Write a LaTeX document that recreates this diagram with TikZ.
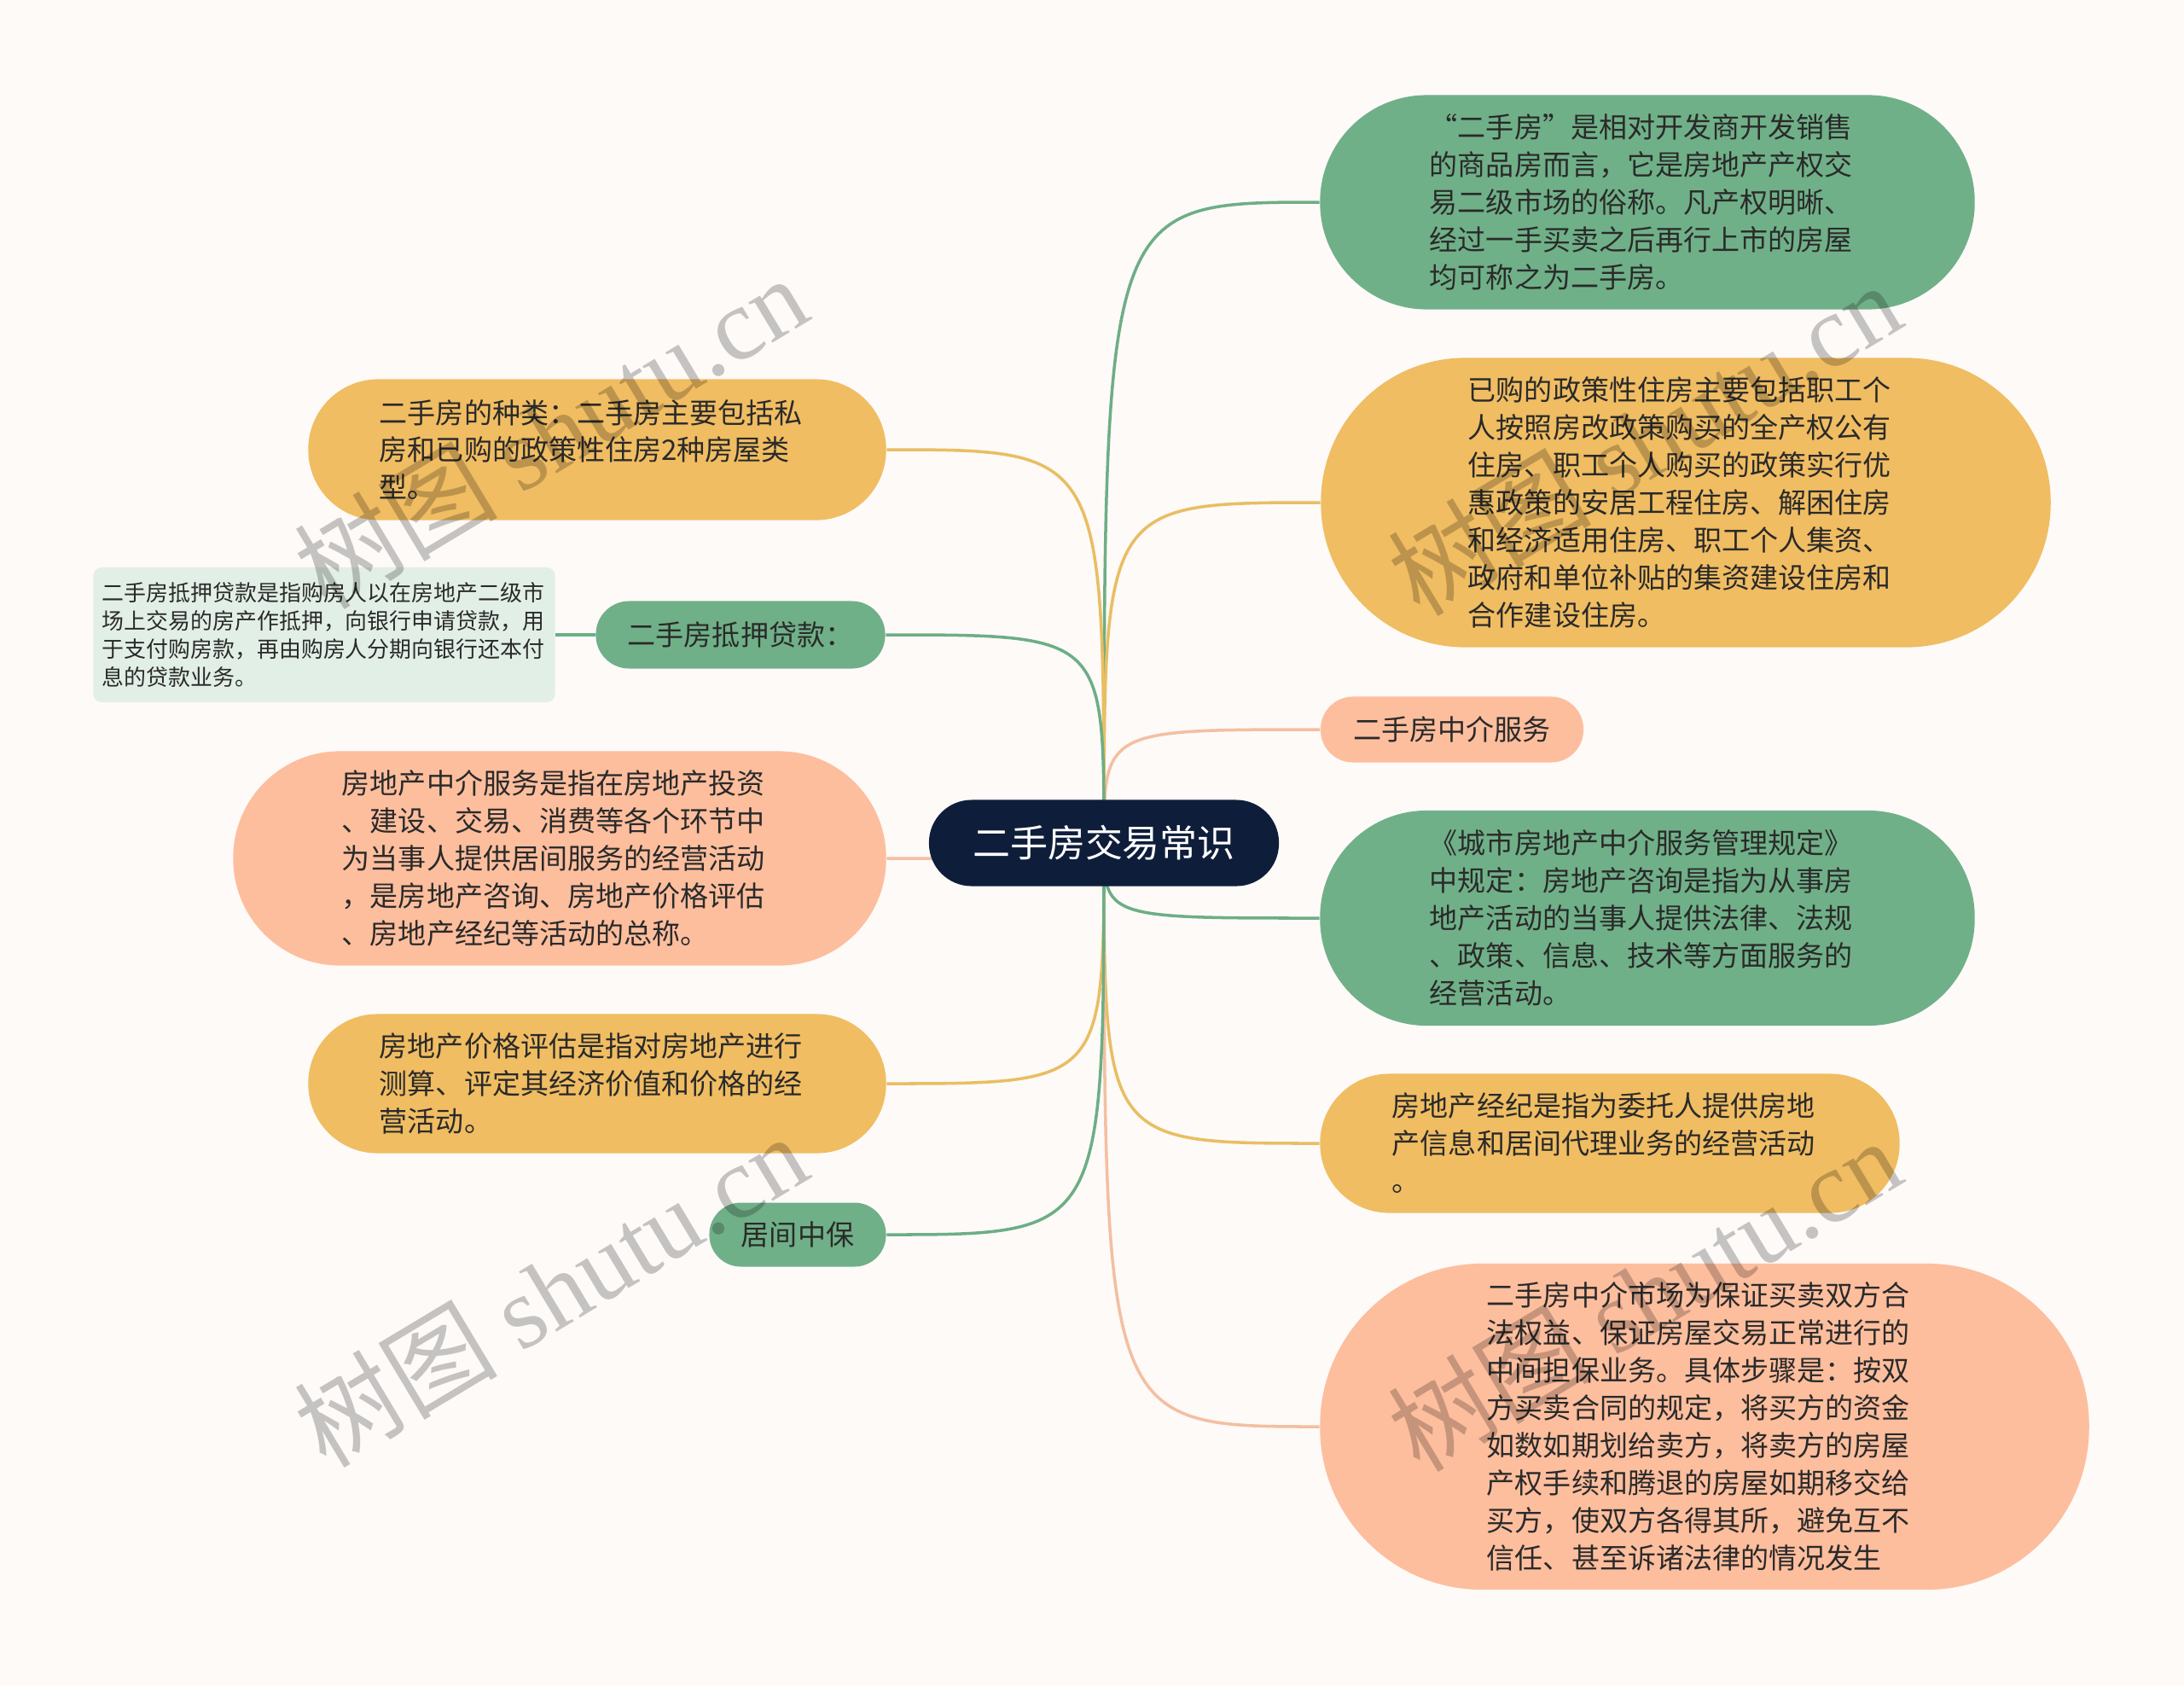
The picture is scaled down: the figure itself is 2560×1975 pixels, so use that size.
\documentclass[tikz,border=0pt]{standalone}
\usepackage{fontspec}
\setmainfont{Noto Sans CJK SC}
\newfontfamily\wmfont{Liberation Serif}
\definecolor{bgcol}{HTML}{FDFAF8}
\definecolor{rootcol}{HTML}{0E1E3A}
\definecolor{greencol}{HTML}{70B088}
\definecolor{yellowcol}{HTML}{F0BD62}
\definecolor{salmoncol}{HTML}{FDBE9E}
\definecolor{notecol}{HTML}{E2EFE6}
\definecolor{greenline}{HTML}{6DAE85}
\definecolor{yellowline}{HTML}{E9BE62}
\definecolor{salmonline}{HTML}{F4BFA1}
\definecolor{txtcol}{HTML}{2A2A2A}
\pgfdeclarelayer{bg}
\pgfdeclarelayer{lines}
\pgfsetlayers{bg,lines,main}
\begin{document}
\begin{tikzpicture}[x=0.01cm,y=-0.01cm,line join=round,
  body/.style={inner sep=0pt,text=txtcol,align=left,text width=5.1cm,
    font=\fontsize{9.4}{12.5}\selectfont},
  tag/.style={inner sep=0pt,text=txtcol,font=\fontsize{9.4}{12.5}\selectfont},
  gfill/.style={fill=greencol},
  yfill/.style={fill=yellowcol},
  sfill/.style={fill=salmoncol},
  glink/.style={draw=greenline,line width=1pt},
  ylink/.style={draw=yellowline,line width=1pt},
  slink/.style={draw=salmonline,line width=1pt},
  mark text/.style={text=black,opacity=0.22,rotate=31,font=\fontsize{34}{34}\selectfont},
]
%%
\begin{pgfonlayer}{bg}
  \fill[bgcol] (0,0) rectangle (2560,1975);
\end{pgfonlayer}
\useasboundingbox (0,0) rectangle (2560,1975);

  \node (root) at (1294,988) [fill=rootcol,text=white,minimum width=4.10cm,minimum height=1.01cm,rounded corners=0.5cm,font=\fontsize{12.5}{15}\selectfont] {二手房交易常识};

  % right side
  \node (r1) at (1931,237) [body,gfill,minimum width=7.67cm,minimum height=2.51cm,rounded corners=1.25cm] {“二手房”是相对开发商开发销售\\的商品房而言，它是房地产产权交\\易二级市场的俗称。凡产权明晰、\\经过一手买卖之后再行上市的房屋\\均可称之为二手房。};
  \node (r2) at (1976,589) [body,yfill,minimum width=8.55cm,minimum height=3.39cm,rounded corners=1.69cm] {已购的政策性住房主要包括职工个\\人按照房改政策购买的全产权公有\\住房、职工个人购买的政策实行优\\惠政策的安居工程住房、解困住房\\和经济适用住房、职工个人集资、\\政府和单位补贴的集资建设住房和\\合作建设住房。};
  \node (r3) at (1702,855) [tag,sfill,minimum width=3.08cm,minimum height=0.77cm,rounded corners=0.38cm] {二手房中介服务};
  \node (r4) at (1931,1076) [body,gfill,minimum width=7.67cm,minimum height=2.52cm,rounded corners=1.25cm] {《城市房地产中介服务管理规定》\\中规定：房地产咨询是指为从事房\\地产活动的当事人提供法律、法规\\、政策、信息、技术等方面服务的\\经营活动。};
  \node (r5) at (1887,1340) [body,yfill,minimum width=6.79cm,minimum height=1.63cm,rounded corners=0.81cm] {房地产经纪是指为委托人提供房地\\产信息和居间代理业务的经营活动\\。};
  \node (r6) at (1998,1672) [body,sfill,minimum width=9.01cm,minimum height=3.82cm,rounded corners=1.90cm] {二手房中介市场为保证买卖双方合\\法权益、保证房屋交易正常进行的\\中间担保业务。具体步骤是：按双\\方买卖合同的规定，将买方的资金\\如数如期划给卖方，将卖方的房屋\\产权手续和腾退的房屋如期移交给\\买方，使双方各得其所，避免互不\\信任、甚至诉诸法律的情况发生};

  % left side
  \node (l1) at (700,527) [body,yfill,minimum width=6.77cm,minimum height=1.65cm,rounded corners=0.82cm] {二手房的种类：二手房主要包括私\\房和已购的政策性住房2种房屋类\\型。};
  \node (l2) at (868,744) [tag,gfill,minimum width=3.39cm,minimum height=0.79cm,rounded corners=0.39cm] {二手房抵押贷款：};
  \node (note) at (380,744) [fill=notecol,text=txtcol,rounded corners=0.1cm,minimum width=5.41cm,minimum height=1.58cm,inner sep=0pt,align=left,text width=5.2cm,font=\fontsize{7.37}{9.4}\selectfont] {二手房抵押贷款是指购房人以在房地产二级市\\场上交易的房产作抵押，向银行申请贷款，用\\于支付购房款，再由购房人分期向银行还本付\\息的贷款业务。};
  \node (l3) at (656,1006) [body,sfill,minimum width=7.65cm,minimum height=2.51cm,rounded corners=1.25cm] {房地产中介服务是指在房地产投资\\、建设、交易、消费等各个环节中\\为当事人提供居间服务的经营活动\\，是房地产咨询、房地产价格评估\\、房地产经纪等活动的总称。};
  \node (l4) at (700,1270) [body,yfill,minimum width=6.77cm,minimum height=1.63cm,rounded corners=0.81cm] {房地产价格评估是指对房地产进行\\测算、评定其经济价值和价格的经\\营活动。};
  \node (l5) at (935,1447) [tag,gfill,minimum width=2.07cm,minimum height=0.75cm,rounded corners=0.37cm] {居间中保};

\begin{pgfonlayer}{lines}
  \draw [glink] (root.center) .. controls (root.center |- r1.west) and (root.center |- r1.west) .. (r1.west);
  \draw [ylink] (root.center) .. controls (root.center |- r2.west) and (root.center |- r2.west) .. (r2.west);
  \draw [slink] (root.center) .. controls (root.center |- r3.west) and (root.center |- r3.west) .. (r3.west);
  \draw [glink] (root.center) .. controls (root.center |- r4.west) and (root.center |- r4.west) .. (r4.west);
  \draw [ylink] (root.center) .. controls (root.center |- r5.west) and (root.center |- r5.west) .. (r5.west);
  \draw [slink] (root.center) .. controls (root.center |- r6.west) and (root.center |- r6.west) .. (r6.west);
  \draw [ylink] (root.center) .. controls (root.center |- l1.east) and (root.center |- l1.east) .. (l1.east);
  \draw [glink] (root.center) .. controls (root.center |- l2.east) and (root.center |- l2.east) .. (l2.east);
  \draw [slink] (root.center) .. controls (root.center |- l3.east) and (root.center |- l3.east) .. (l3.east);
  \draw [ylink] (root.center) .. controls (root.center |- l4.east) and (root.center |- l4.east) .. (l4.east);
  \draw [glink] (root.center) .. controls (root.center |- l5.east) and (root.center |- l5.east) .. (l5.east);
  \draw [glink] (l2.west) -- (note.east);
\end{pgfonlayer}

  % watermarks
  \node (wm1) at (645,506) [mark text] {树图 {\wmfont shutu.cn}};
  \node (wm2) at (645,1512) [mark text] {树图 {\wmfont shutu.cn}};
  \node (wm3) at (1927,514) [mark text] {树图 {\wmfont shutu.cn}};
  \node (wm4) at (1927,1517) [mark text] {树图 {\wmfont shutu.cn}};
%
\end{tikzpicture}
\end{document}
